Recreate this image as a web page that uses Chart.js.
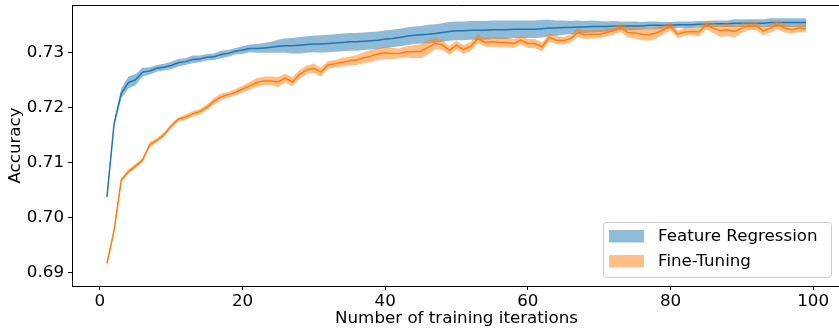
<!DOCTYPE html>
<html>
<head>
<meta charset="utf-8">
<script src="https://cdn.jsdelivr.net/npm/chart.js@4.4.0/dist/chart.umd.min.js"></script>
<style>
html, body { margin: 0; padding: 0; background: #fff; overflow: hidden; }
#wrap { width: 839px; height: 330px; overflow: hidden; }
</style>
</head>
<body>
<div id="wrap"><canvas id="chart" width="846" height="330"></canvas></div>
<script>
// training iterations 1..99
const iterations = Array.from({ length: 99 }, (_, i) => i + 1);
const xTicks = [0, 20, 40, 60, 80, 100];
const yTicks = [0.69, 0.70, 0.71, 0.72, 0.73];
const seriesNames = ['Feature Regression', 'Fine-Tuning'];

// Feature Regression: mean accuracy and half width of the band
const featRegMean = [
  0.7037, 0.7170, 0.7225, 0.7245, 0.7250, 0.7264, 0.7266, 0.7271, 0.7273, 0.7276,
  0.7281, 0.7283, 0.7287, 0.7288, 0.7291, 0.7292, 0.7296, 0.7298, 0.7302, 0.7304,
  0.7307, 0.7307, 0.7308, 0.7309, 0.7311, 0.7312, 0.7312, 0.7313, 0.7314, 0.7315,
  0.7315, 0.7316, 0.7317, 0.7318, 0.7319, 0.7319, 0.7320, 0.7321, 0.7322, 0.7324,
  0.7325, 0.7327, 0.7329, 0.7331, 0.7332, 0.7333, 0.7334, 0.7336, 0.7338, 0.7339,
  0.7339, 0.7340, 0.7340, 0.7340, 0.7341, 0.7341, 0.7341, 0.7342, 0.7342, 0.7342,
  0.7342, 0.7343, 0.7344, 0.7344, 0.7345, 0.7345, 0.7346, 0.7346, 0.7347, 0.7347,
  0.7347, 0.7348, 0.7348, 0.7348, 0.7348, 0.7348, 0.7349, 0.7349, 0.7349, 0.7349,
  0.7350, 0.7350, 0.7350, 0.7351, 0.7351, 0.7352, 0.7352, 0.7352, 0.7353, 0.7353,
  0.7353, 0.7353, 0.7353, 0.7354, 0.7354, 0.7354, 0.7354, 0.7354, 0.7354
];
const featRegErr = [
  0.0003, 0.0004, 0.0009, 0.0011, 0.0010, 0.0008, 0.0007, 0.0006, 0.0006, 0.0007,
  0.0007, 0.0006, 0.0007, 0.0006, 0.0006, 0.0006, 0.0007, 0.0006, 0.0006, 0.0007,
  0.0007, 0.0008, 0.0009, 0.0010, 0.0012, 0.0013, 0.0014, 0.0015, 0.0015, 0.0015,
  0.0016, 0.0016, 0.0016, 0.0016, 0.0016, 0.0016, 0.0016, 0.0016, 0.0016, 0.0016,
  0.0016, 0.0016, 0.0016, 0.0016, 0.0016, 0.0017, 0.0017, 0.0017, 0.0017, 0.0017,
  0.0017, 0.0017, 0.0017, 0.0017, 0.0017, 0.0017, 0.0017, 0.0016, 0.0016, 0.0016,
  0.0016, 0.0016, 0.0015, 0.0014, 0.0013, 0.0012, 0.0012, 0.0011, 0.0011, 0.0010,
  0.0009, 0.0009, 0.0008, 0.0008, 0.0008, 0.0007, 0.0007, 0.0007, 0.0006, 0.0006,
  0.0006, 0.0006, 0.0006, 0.0006, 0.0006, 0.0006, 0.0006, 0.0006, 0.0007, 0.0007,
  0.0007, 0.0007, 0.0007, 0.0008, 0.0008, 0.0008, 0.0008, 0.0008, 0.0008
];

// Fine-Tuning: mean accuracy and half width of the band
const fineTuneMean = [
  0.6916, 0.6976, 0.7067, 0.7083, 0.7093, 0.7104, 0.7132, 0.7140, 0.7150, 0.7166,
  0.7178, 0.7182, 0.7188, 0.7192, 0.7200, 0.7211, 0.7219, 0.7223, 0.7227, 0.7233,
  0.7239, 0.7245, 0.7248, 0.7248, 0.7246, 0.7253, 0.7246, 0.7260, 0.7268, 0.7271,
  0.7264, 0.7277, 0.7279, 0.7282, 0.7284, 0.7286, 0.7290, 0.7293, 0.7297, 0.7299,
  0.7298, 0.7298, 0.7301, 0.7301, 0.7302, 0.7309, 0.7316, 0.7314, 0.7303, 0.7313,
  0.7305, 0.7311, 0.7325, 0.7318, 0.7319, 0.7318, 0.7318, 0.7316, 0.7322, 0.7316,
  0.7316, 0.7310, 0.7327, 0.7322, 0.7321, 0.7325, 0.7336, 0.7332, 0.7333, 0.7333,
  0.7336, 0.7339, 0.7345, 0.7336, 0.7335, 0.7333, 0.7332, 0.7335, 0.7341, 0.7347,
  0.7333, 0.7337, 0.7338, 0.7337, 0.7350, 0.7344, 0.7339, 0.7341, 0.7338, 0.7344,
  0.7348, 0.7348, 0.7339, 0.7344, 0.7350, 0.7344, 0.7341, 0.7344, 0.7343
];
const fineTuneErr = [
  0.0005, 0.0005, 0.0004, 0.0004, 0.0004, 0.0004, 0.0005, 0.0004, 0.0004, 0.0004,
  0.0004, 0.0005, 0.0005, 0.0005, 0.0005, 0.0006, 0.0006, 0.0005, 0.0006, 0.0006,
  0.0007, 0.0008, 0.0008, 0.0008, 0.0009, 0.0008, 0.0008, 0.0008, 0.0008, 0.0008,
  0.0008, 0.0007, 0.0007, 0.0008, 0.0008, 0.0009, 0.0010, 0.0011, 0.0011, 0.0011,
  0.0010, 0.0009, 0.0010, 0.0012, 0.0013, 0.0013, 0.0011, 0.0009, 0.0008, 0.0008,
  0.0008, 0.0008, 0.0008, 0.0008, 0.0009, 0.0009, 0.0009, 0.0008, 0.0008, 0.0008,
  0.0008, 0.0008, 0.0008, 0.0007, 0.0007, 0.0007, 0.0008, 0.0008, 0.0008, 0.0008,
  0.0007, 0.0007, 0.0008, 0.0009, 0.0010, 0.0011, 0.0011, 0.0010, 0.0008, 0.0008,
  0.0007, 0.0007, 0.0007, 0.0008, 0.0008, 0.0009, 0.0011, 0.0012, 0.0011, 0.0009,
  0.0008, 0.0008, 0.0008, 0.0008, 0.0008, 0.0008, 0.0007, 0.0007, 0.0007
];

const BLUE = '#1f77b4';
const ORANGE = '#ff7f0e';
const BLUE_BAND = 'rgba(31,119,180,0.5)';
const ORANGE_BAND = 'rgba(255,127,14,0.5)';
const FONT = 'DejaVu Sans';
const FSIZE = 16.7;

function points(vals) {
  return iterations.map((x, i) => ({ x: x, y: vals[i] }));
}
function band(mean, err, sign) {
  return iterations.map((x, i) => ({ x: x, y: mean[i] + sign * err[i] }));
}

function lineSet(data, color) {
  return { data: data, borderColor: color, borderWidth: 1.5, pointRadius: 0, fill: false, tension: 0 };
}
function edgeSet(data) {
  return { data: data, borderWidth: 0, borderColor: 'rgba(0,0,0,0)', pointRadius: 0, fill: false, tension: 0 };
}
function fillSet(data, color) {
  return { data: data, borderWidth: 0, borderColor: 'rgba(0,0,0,0)', backgroundColor: color, pointRadius: 0, fill: '-1', tension: 0 };
}

// top/right spines and the legend box in the lower right corner
const framePlugin = {
  id: 'frame',
  afterDraw(chart) {
    const ctx = chart.ctx;
    const a = chart.chartArea;
    ctx.save();
    ctx.strokeStyle = '#000';
    ctx.lineWidth = 1;
    ctx.beginPath();
    ctx.moveTo(a.left, a.top + 0.5);
    ctx.lineTo(a.right, a.top + 0.5);
    ctx.moveTo(a.right - 0.5, a.top);
    ctx.lineTo(a.right - 0.5, a.bottom);
    ctx.stroke();

    const boxW = 228, boxH = 55;
    const bx = 603, by = a.bottom - 9 - boxH;
    ctx.fillStyle = 'rgba(255,255,255,0.8)';
    ctx.strokeStyle = '#cccccc';
    ctx.beginPath();
    ctx.roundRect(bx + 0.5, by + 0.5, boxW, boxH, 3);
    ctx.fill();
    ctx.stroke();

    const colors = [BLUE_BAND, ORANGE_BAND];
    ctx.font = FSIZE + 'px "' + FONT + '"';
    ctx.textBaseline = 'middle';
    ctx.textAlign = 'left';
    seriesNames.forEach((name, k) => {
      const cy = by + 14 + k * 25;
      ctx.fillStyle = colors[k];
      ctx.fillRect(bx + 6, cy - 6, 35, 12.5);
      ctx.fillStyle = '#000';
      ctx.fillText(name, bx + 55, cy + 1);
    });
    ctx.restore();
  }
};

const chart = new Chart(document.getElementById('chart'), {
  type: 'line',
  data: {
    datasets: [
      lineSet(points(fineTuneMean), ORANGE),
      edgeSet(band(fineTuneMean, fineTuneErr, 1)),
      fillSet(band(fineTuneMean, fineTuneErr, -1), ORANGE_BAND),
      lineSet(points(featRegMean), BLUE),
      edgeSet(band(featRegMean, featRegErr, 1)),
      fillSet(band(featRegMean, featRegErr, -1), BLUE_BAND)
    ]
  },
  options: {
    responsive: false,
    animation: false,
    devicePixelRatio: 1,
    layout: { padding: { top: 5, right: 5, left: 0, bottom: 0 } },
    plugins: {
      legend: { display: false },
      tooltip: { enabled: false },
      filler: { propagate: false }
    },
    scales: {
      x: {
        type: 'linear',
        min: -3.9,
        max: 103.9,
        afterBuildTicks: s => { s.ticks = xTicks.map(v => ({ value: v })); },
        afterFit: s => { s.height = 44; s.paddingLeft = 0; s.paddingRight = 0; },
        grid: { drawOnChartArea: false, drawTicks: true, tickLength: 4, tickColor: '#000' },
        border: { display: true, color: '#000', width: 1 },
        ticks: { color: '#000', font: { family: FONT, size: FSIZE }, padding: 2, maxRotation: 0 },
        title: { display: true, text: 'Number of training iterations', color: '#000',
                 font: { family: FONT, size: FSIZE }, padding: { top: 0, bottom: 1 } }
      },
      y: {
        type: 'linear',
        min: 0.6875,
        max: 0.7386,
        afterBuildTicks: s => { s.ticks = yTicks.map(v => ({ value: v })); },
        afterFit: s => { s.width = 72; s.paddingTop = 0; s.paddingBottom = 0; },
        grid: { drawOnChartArea: false, drawTicks: true, tickLength: 4, tickColor: '#000' },
        border: { display: true, color: '#000', width: 1 },
        ticks: { color: '#000', font: { family: FONT, size: FSIZE }, padding: 4,
                 callback: v => v.toFixed(2) },
        title: { display: true, text: 'Accuracy', color: '#000',
                 font: { family: FONT, size: FSIZE }, padding: { top: 6, bottom: 0 } }
      }
    }
  },
  plugins: [framePlugin]
});
</script>
</body>
</html>
